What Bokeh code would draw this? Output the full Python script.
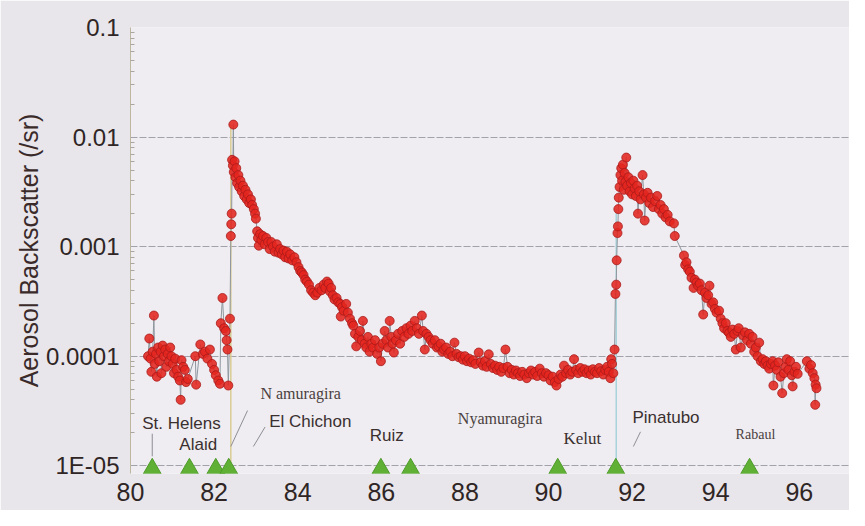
from bokeh.plotting import figure
from bokeh.models import Range1d, FixedTicker, Label, ColumnDataSource
from bokeh.embed import file_html
from bokeh.resources import INLINE

# ---------------- data (backscatter values in units of 1e-4 /sr) ----------------
UNIT = 1e-4

YEARS_1980 = [80.42, 80.45, 80.48, 80.50, 80.53, 80.56, 80.58, 80.61, 80.63, 80.66,
              80.69, 80.72, 80.74, 80.77, 80.80, 80.83, 80.86, 80.89, 80.92, 80.95,
              80.98, 81.01, 81.04, 81.07, 81.10, 81.14, 81.18, 81.20, 81.22, 81.26,
              81.30, 81.33, 81.37, 81.55, 81.57, 81.67, 81.73, 81.78, 81.84, 81.90,
              81.95, 82.00, 82.04, 82.10, 82.14, 82.16, 82.20, 82.24, 82.28, 82.30,
              82.32, 82.34, 82.38]
BSC_1980 = [1.0, 1.45, 0.95, 0.72, 1.1, 2.35, 0.85, 1.05, 0.65, 1.2,
            0.9, 1.1, 0.7, 1.25, 1.0, 1.15, 0.8, 1.05, 0.9, 1.2,
            1.0, 0.85, 0.7, 0.95, 0.75, 0.65, 0.6, 0.4, 0.92, 0.8,
            0.75, 0.58, 0.62, 1.0, 0.55, 1.28, 1.05, 1.1, 0.95, 1.15,
            0.85, 0.75, 0.67, 0.6, 0.56, 2.0, 3.4, 1.8, 1.7, 1.4,
            1.15, 0.54, 2.2]

YEARS_CHICHON = [82.40, 82.41, 82.42, 82.43, 82.45, 82.46, 82.47, 82.49, 82.51, 82.53,
                 82.55, 82.58, 82.60, 82.63, 82.66, 82.69, 82.72, 82.75, 82.78, 82.81,
                 82.84, 82.88, 82.91, 82.95, 82.98, 83.00, 83.03, 83.05, 83.07, 83.10,
                 83.13, 83.17, 83.21, 83.25, 83.29, 83.33, 83.37, 83.41, 83.45, 83.50,
                 83.54, 83.58, 83.62, 83.66, 83.70, 83.74, 83.78, 83.82, 83.87, 83.92,
                 83.97, 84.02, 84.06, 84.10, 84.14, 84.18, 84.22, 84.27, 84.32, 84.37,
                 84.42, 84.47, 84.52, 84.57, 84.62, 84.66, 84.70, 84.74, 84.77, 84.80,
                 84.84, 84.88, 84.93, 84.97, 85.02, 85.03, 85.06, 85.10, 85.16, 85.20,
                 85.25, 85.30, 85.33, 85.37, 85.40, 85.45, 85.49, 85.53, 85.56, 85.60,
                 85.64, 85.68, 85.72, 85.76, 85.80, 85.85, 85.90, 85.95, 85.99]
BSC_CHICHON = [12.5, 16, 20, 62, 55, 130, 48, 60, 43, 52,
               38, 45, 35, 40, 32, 36, 29, 33, 27, 30,
               25, 27, 24, 22, 20, 18, 13.8, 12, 10.2, 13,
               11.5, 12.5, 10.5, 12, 11, 9.5, 11, 10, 9, 10.5,
               8.8, 9.5, 8.5, 9.2, 8, 9, 7.8, 8.5, 7.5, 8,
               7.2, 6.5, 6, 5.8, 5.5, 5, 4.8, 4.5, 4, 3.8,
               3.6, 3.8, 4.2, 4, 4.5, 4.2, 4.8, 4.6, 3.9, 4.2,
               3.6, 3.3, 3.4, 3.1, 3.0, 2.3, 2.8, 2.6, 3.0, 2.5,
               2.2, 2.0, 1.9, 1.6, 1.23, 1.5, 1.7, 1.4, 2.1, 1.3,
               1.2, 1.5, 1.1, 1.3, 1.2, 1.4, 1.05, 1.2, 0.9]

YEARS_QUIET = [86.03, 86.08, 86.12, 86.16, 86.20, 86.24, 86.27, 86.30, 86.35, 86.40,
               86.45, 86.50, 86.55, 86.60, 86.65, 86.70, 86.74, 86.80, 86.85, 86.90,
               86.97, 87.00, 87.04, 87.08, 87.13, 87.18, 87.23, 87.28, 87.33, 87.37,
               87.42, 87.46, 87.50, 87.55, 87.60, 87.65, 87.70, 87.75, 87.80, 87.85,
               87.90, 87.95, 88.00, 88.05, 88.10, 88.15, 88.20, 88.25, 88.33, 88.38,
               88.43, 88.48, 88.52, 88.57, 88.62, 88.67, 88.72, 88.77, 88.82, 88.87,
               88.92, 88.97, 89.02, 89.07, 89.12, 89.17, 89.22, 89.27, 89.32, 89.37,
               89.42, 89.48, 89.53, 89.58, 89.63, 89.68, 89.73, 89.79, 89.84, 89.89,
               89.94, 90.00, 90.05, 90.10, 90.15, 90.19, 90.24, 90.29, 90.33, 90.37,
               90.42, 90.47, 90.52, 90.57, 90.61, 90.66, 90.71, 90.76, 90.81, 90.86,
               90.91, 90.96, 91.01, 91.06, 91.11, 91.16, 91.21, 91.26, 91.31, 91.36,
               91.40, 91.44, 91.48, 91.50, 91.52, 91.55, 91.58]
BSC_QUIET = [1.3, 1.7, 1.4, 1.2, 2.1, 1.5, 1.3, 1.08, 1.4, 1.6,
             1.3, 1.7, 1.5, 1.8, 1.6, 1.9, 1.7, 2.1, 1.8, 1.6,
             2.35, 1.7, 1.15, 1.6, 1.5, 1.4, 1.3, 1.4, 1.2, 1.23,
             1.3, 1.1, 1.15, 1.2, 1.05, 1.1, 1.0, 1.33, 1.05, 0.98,
             1.0, 0.93, 1.0, 0.9, 0.95, 0.88, 0.92, 0.85, 1.08, 0.88,
             0.82, 0.9, 0.8, 1.04, 0.85, 0.78, 0.82, 0.75, 0.8, 0.72,
             0.78, 1.15, 0.8, 0.7, 0.75, 0.68, 0.74, 0.7, 0.66, 0.72,
             0.68, 0.63, 0.7, 0.74, 0.68, 0.72, 0.66, 0.77, 0.7, 0.65,
             0.7, 0.67, 0.6, 0.65, 0.58, 0.54, 0.62, 0.68, 0.65, 0.82,
             0.7, 0.75, 0.68, 0.72, 0.94, 0.75, 0.7, 0.78, 0.72, 0.76,
             0.7, 0.74, 0.68, 0.76, 0.72, 0.7, 0.78, 0.73, 0.68, 0.75,
             0.8, 0.72, 0.63, 0.94, 0.85, 0.7, 1.15]

YEARS_PINATUBO = [91.60, 91.62, 91.63, 91.65, 91.66, 91.67, 91.68, 91.70, 91.72, 91.74,
                  91.76, 91.78, 91.80, 91.82, 91.84, 91.86, 91.88, 91.91, 91.94, 91.97,
                  92.00, 92.03, 92.06, 92.09, 92.12, 92.14, 92.17, 92.20, 92.25, 92.28,
                  92.30, 92.33, 92.37, 92.41, 92.45, 92.50, 92.55, 92.60, 92.64, 92.68,
                  92.72, 92.76, 92.80, 92.85, 92.90, 93.00, 93.02]
BSC_PINATUBO = [3.7, 4.5, 7.5, 13.3, 15.3, 22, 28, 35, 45, 52,
                40, 56, 33, 47, 39, 65, 36, 43, 32, 38,
                30, 40, 34, 29, 36, 20, 32, 27, 45, 30,
                17.3, 28, 31, 25, 28, 23, 26, 29, 22, 24,
                20, 22, 18.5, 19.5, 17, 16.3, 12.5]

YEARS_DECAY = [93.24, 93.27, 93.30, 93.34, 93.38, 93.42, 93.47, 93.50, 93.54, 93.58,
               93.62, 93.66, 93.70, 93.74, 93.78, 93.82, 93.85, 93.90, 93.94, 93.98,
               94.02, 94.08, 94.12, 94.16, 94.20, 94.24, 94.28, 94.32, 94.36, 94.40,
               94.44, 94.48, 94.52, 94.55, 94.60, 94.65, 94.70, 94.75, 94.80, 94.84,
               94.88, 94.92, 94.96, 95.00, 95.04, 95.08, 95.12, 95.16, 95.20, 95.24,
               95.28, 95.32, 95.36, 95.38, 95.42, 95.46, 95.50, 95.55, 95.59, 95.63,
               95.67, 95.70, 95.74, 95.78, 95.82, 95.84, 95.88, 95.92, 95.96, 96.18,
               96.24, 96.28, 96.32, 96.36, 96.38, 96.39, 96.41]
BSC_DECAY = [8.3, 6.8, 7.2, 6.2, 5.9, 5.2, 4.2, 5.0, 4.7, 4.4,
             4.6, 4.0, 2.4, 3.8, 3.4, 3.6, 4.4, 3.0, 3.1, 2.7,
             2.5, 2.6, 2.2, 2.0, 1.8, 2.0, 1.7, 1.63, 1.5, 1.75,
             1.6, 1.15, 1.7, 1.8, 1.2, 1.55, 1.65, 1.4, 1.6, 1.3,
             1.5, 1.1, 1.2, 1.0, 1.33, 0.9, 0.94, 0.85, 0.9, 0.82,
             0.77, 0.85, 0.9, 0.54, 0.82, 0.75, 0.88, 0.65, 0.46, 0.7,
             0.8, 0.94, 0.75, 0.9, 0.67, 0.53, 0.72, 0.8, 0.69, 0.9,
             0.77, 0.83, 0.7, 0.63, 0.36, 0.55, 0.51]

ERUPTION_NAMES = ["St. Helens", "Alaid", "Nyamuragira", "El Chichon", "Ruiz",
                  "Nyamuragira", "Kelut", "Pinatubo", "Rabaul"]
ERUPTION_YEARS = [80.52, 81.41, 82.04, 82.35, 85.99, 86.70, 90.22, 91.61, 94.81]

# vertical traces from the baseline up to the El Chichon and Pinatubo peaks
PEAK_YEARS = [82.40, 91.62]
PEAK_TOPS = [1.3e-2, 2.2e-3]
PEAK_COLORS = ["#d9cd93", "#a9d3dc"]

X_TICKS = [80, 82, 84, 86, 88, 90, 92, 94, 96]
Y_TICKS = [1e-5, 1e-4, 1e-3, 1e-2, 1e-1]
Y_TICK_LABELS = ["1E-05", "0.0001", "0.001", "0.01", "0.1"]

# annotation labels (text, x, y, font, size, colour)
ANNOTATIONS = [
    ("St. Helens", 81.22, 2.45e-5, "Liberation Sans", "17px", "#3b3030"),
    ("Alaid", 81.62, 1.57e-5, "Liberation Sans", "17px", "#3b3030"),
    ("N amuragira", 84.07, 4.61e-5, "Liberation Serif", "16px", "#4a4040"),
    ("El Chichon", 84.30, 2.55e-5, "Liberation Sans", "17px", "#3b3030"),
    ("Ruiz", 86.13, 1.88e-5, "Liberation Sans", "17px", "#3b3030"),
    ("Nyamuragira", 88.84, 2.72e-5, "Liberation Serif", "16px", "#4a4040"),
    ("Kelut", 90.81, 1.77e-5, "Liberation Serif", "17px", "#3b3030"),
    ("Pinatubo", 92.81, 2.77e-5, "Liberation Sans", "17px", "#3b3030"),
    ("Rabaul", 94.95, 1.92e-5, "Liberation Serif", "14px", "#4a4040"),
]
LEADERS_X0 = [80.52, 82.40, 82.94, 92.03]
LEADERS_Y0 = [1.22e-5, 1.5e-5, 1.5e-5, 1.5e-5]
LEADERS_X1 = [80.52, 82.80, 83.22, 92.20]
LEADERS_Y1 = [1.96e-5, 3.19e-5, 2.26e-5, 2.04e-5]

years = YEARS_1980 + YEARS_CHICHON + YEARS_QUIET + YEARS_PINATUBO + YEARS_DECAY
bsc = [v * UNIT for v in BSC_1980 + BSC_CHICHON + BSC_QUIET + BSC_PINATUBO + BSC_DECAY]
src = ColumnDataSource(dict(year=years, bsc=bsc))

BASE = 1e-5
TRI_Y = 9.4e-6

# ---------------- figure ----------------
p = figure(width=849, height=510,
           x_range=Range1d(80.0, 97.2), y_range=Range1d(8.5e-6, 0.1),
           y_axis_type="log", output_backend="svg", toolbar_location=None,
           min_border_left=130, min_border_right=0, min_border_top=27, min_border_bottom=37,
           background_fill_color="#efedf1", border_fill_color="#e8e6ea",
           outline_line_color=None)

TXT = "#2f2525"
p.xaxis.ticker = FixedTicker(ticks=X_TICKS)
p.xaxis.axis_line_color = None
p.xaxis.major_tick_line_color = None
p.xaxis.minor_tick_line_color = None
p.xaxis.major_label_standoff = 3
p.xaxis.major_label_text_font = "Liberation Sans"
p.xaxis.major_label_text_font_size = "25px"
p.xaxis.major_label_text_color = TXT

minor = [m * 10.0 ** e for e in range(-5, -1) for m in range(2, 10)]
p.yaxis.ticker = FixedTicker(ticks=Y_TICKS, minor_ticks=minor)
p.yaxis.major_label_overrides = dict(zip(Y_TICKS, Y_TICK_LABELS))
p.yaxis.axis_line_color = "#bdb7a0"
p.yaxis.major_tick_in = 0
p.yaxis.major_tick_out = 0
p.yaxis.minor_tick_in = 4
p.yaxis.minor_tick_out = 0
p.yaxis.minor_tick_line_color = "#aaa69e"
p.yaxis.major_label_standoff = 11
p.yaxis.major_label_text_font = "Liberation Sans"
p.yaxis.major_label_text_font_size = "24px"
p.yaxis.major_label_text_color = TXT
p.yaxis.axis_label = "Aerosol Backscatter (/sr)"
p.yaxis.axis_label_text_font = "Liberation Sans"
p.yaxis.axis_label_text_font_size = "25px"
p.yaxis.axis_label_text_font_style = "normal"
p.yaxis.axis_label_text_color = "#3a2a2a"
p.yaxis.axis_label_standoff = 0

p.xgrid.grid_line_color = None
p.ygrid.grid_line_color = "#a2a2aa"
p.ygrid.grid_line_dash = "7 2"
p.ygrid.grid_line_width = 1

# vertical peak traces
p.segment(x0=PEAK_YEARS, y0=[BASE] * len(PEAK_YEARS), x1=PEAK_YEARS, y1=PEAK_TOPS,
          line_color=PEAK_COLORS, line_width=1.5)

# leader lines for labels
p.segment(x0=LEADERS_X0, y0=LEADERS_Y0, x1=LEADERS_X1, y1=LEADERS_Y1,
          line_color="#8e8e96", line_width=1)

# data
p.line("year", "bsc", source=src, line_color="#8e969e", line_width=1)
p.scatter("year", "bsc", source=src, size=9, fill_color="#e4261f", fill_alpha=0.88,
          line_color="#a81a1a", line_width=0.8)

# eruption markers
p.scatter(x=ERUPTION_YEARS, y=[TRI_Y] * len(ERUPTION_YEARS), marker="triangle", size=18,
          fill_color="#5fb034", line_color="#4f9a2a", line_width=1)

for text, x, y, font, size, color in ANNOTATIONS:
    p.add_layout(Label(x=x, y=y, text=text, text_font=font, text_font_size=size,
                       text_color=color, text_align="center", text_baseline="middle"))

open("out.html", "w").write(file_html(p, INLINE))
